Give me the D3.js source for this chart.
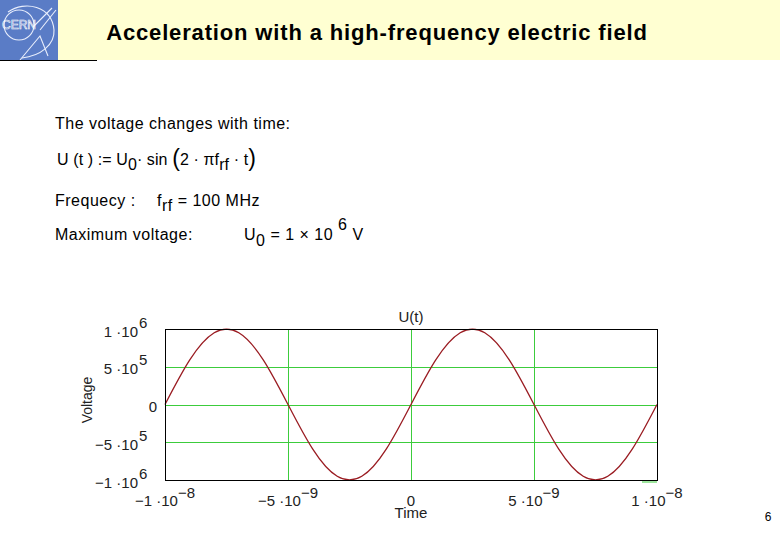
<!DOCTYPE html>
<html>
<head>
<meta charset="utf-8">
<script src="https://cdn.jsdelivr.net/npm/d3@7"></script>
<style>
  html, body { margin: 0; padding: 0; background: #fff; }
  svg { display: block; font-family: "Liberation Sans", Arial, sans-serif; }
  text { white-space: pre; }
</style>
</head>
<body>
<svg id="chart" width="780" height="540"></svg>
<script>
// ---------------- data ----------------
const pageTitle = "Acceleration with a high-frequency electric field";
const chartTitle = "U(t)";
const xAxisLabel = "Time";
const yAxisLabel = "Voltage";
const pageNumber = "6";

// time samples (ns) and voltage (V)
const timeNs = [-10, -9, -8, -7, -6, -5, -4, -3, -2, -1, 0, 1, 2, 3, 4, 5, 6, 7, 8, 9, 10];
const voltage = [0, 5.88e5, 9.51e5, 9.51e5, 5.88e5, 0, -5.88e5, -9.51e5, -9.51e5, -5.88e5,
                 0, 5.88e5, 9.51e5, 9.51e5, 5.88e5, 0, -5.88e5, -9.51e5, -9.51e5, -5.88e5, 0];

const xTicks = [-1e-8, -5e-9, 0, 5e-9, 1e-8];
const yTicks = [-1e6, -5e5, 0, 5e5, 1e6];
const xGrid = [-5e-9, 0, 5e-9];
const yGrid = [-5e5, 0, 5e5];

// ---------------- drawing ----------------
const svg = d3.select("#chart");

// header band
svg.append("rect").attr("x", 58).attr("y", 0).attr("width", 722).attr("height", 60).attr("fill", "#ffffd2");
// logo
const logo = svg.append("g");
logo.append("rect").attr("x", 0).attr("y", 0).attr("width", 58).attr("height", 60).attr("fill", "#5a7cc6");
logo.append("circle").attr("cx", 19).attr("cy", 25).attr("r", 15).attr("fill", "none").attr("stroke", "#e8eefc").attr("stroke-width", 1.1);
logo.append("path").attr("d", "M8,12 C25,0 52,6 54,30 C55,45 40,56 22,58").attr("fill", "none").attr("stroke", "#e8eefc").attr("stroke-width", 1.1);
logo.append("path").attr("d", "M34,26 L52,8 M40,30 L56,10 M20,60 L40,36 L48,56").attr("fill", "none").attr("stroke", "#e8eefc").attr("stroke-width", 1.1);
logo.append("text").attr("x", 19).attr("y", 29).attr("text-anchor", "middle")
  .attr("font-size", 12).attr("fill", "none").attr("stroke", "#ffffff").attr("stroke-width", 0.6).text("CERN");
svg.append("line").attr("x1", 0).attr("x2", 97).attr("y1", 60.5).attr("y2", 60.5).attr("stroke", "#000").attr("stroke-width", 1);

svg.append("text").attr("x", 377).attr("y", 40).attr("text-anchor", "middle")
  .attr("font-size", 22).attr("font-weight", "bold").attr("letter-spacing", 0.85).attr("fill", "#000").text(pageTitle);

// formula block
const fs = 16;
const ls = 0.5;
svg.append("text").attr("x", 55).attr("y", 129).attr("font-size", fs).attr("letter-spacing", ls)
  .text("The voltage changes with time:");

const l2 = svg.append("text").attr("x", 57).attr("y", 165).attr("font-size", fs).attr("letter-spacing", 0.1);
l2.append("tspan").text("U (t ) := U");
l2.append("tspan").attr("dy", 5).text("0");
l2.append("tspan").attr("dy", -5).text("· sin ");
l2.append("tspan").attr("font-size", 23).attr("dy", 1).text("(");
l2.append("tspan").attr("dy", -1).text("2 · πf");
l2.append("tspan").attr("dy", 5).text("rf");
l2.append("tspan").attr("dy", -5).text(" · t");
l2.append("tspan").attr("font-size", 23).attr("dy", 1).text(")");

svg.append("text").attr("x", 55).attr("y", 206).attr("font-size", fs).attr("letter-spacing", ls).text("Frequecy :");
const l3 = svg.append("text").attr("x", 157).attr("y", 206).attr("font-size", fs).attr("letter-spacing", ls);
l3.append("tspan").text("f");
l3.append("tspan").attr("dy", 5).text("rf");
l3.append("tspan").attr("dy", -5).text(" = 100 MHz");

svg.append("text").attr("x", 55).attr("y", 240).attr("font-size", fs).attr("letter-spacing", ls).text("Maximum voltage:");
const l4 = svg.append("text").attr("x", 244).attr("y", 240).attr("font-size", fs).attr("letter-spacing", ls);
l4.append("tspan").text("U");
l4.append("tspan").attr("dy", 6).text("0");
l4.append("tspan").attr("dy", -6).text(" = 1 × 10 ");
l4.append("tspan").attr("dy", -10).text("6");
l4.append("tspan").attr("dy", 10).text(" V");

// chart
const x = d3.scaleLinear().domain([-1e-8, 1e-8]).range([165, 657]);
const y = d3.scaleLinear().domain([-1e6, 1e6]).range([480, 329]);
const data = timeNs.map((t, i) => ({ t: t * 1e-9, v: voltage[i] }));

const grid = svg.append("g").attr("stroke", "#3ccc3c").attr("stroke-width", 1);
grid.selectAll("line.vx").data(xGrid).join("line")
  .attr("x1", d => Math.round(x(d)) + 0.5).attr("x2", d => Math.round(x(d)) + 0.5)
  .attr("y1", y(1e6)).attr("y2", y(-1e6));
grid.selectAll("line.hy").data(yGrid).join("line")
  .attr("x1", x(-1e-8)).attr("x2", x(1e-8))
  .attr("y1", d => Math.round(y(d)) + 0.5).attr("y2", d => Math.round(y(d)) + 0.5);
// small green stub below the frame at lower right (as in the original rendering)
grid.append("line").attr("x1", x(1e-8) - 15).attr("x2", x(1e-8)).attr("y1", y(-1e6) + 2).attr("y2", y(-1e6) + 2);

const line = d3.line().x(d => x(d.t)).y(d => y(d.v)).curve(d3.curveNatural);
svg.append("path").datum(data).attr("d", line)
  .attr("fill", "none").attr("stroke", "#9a1c22").attr("stroke-width", 1.3);

svg.append("rect").attr("x", x(-1e-8) + 0.5).attr("y", y(1e6) + 0.5)
  .attr("width", x(1e-8) - x(-1e-8)).attr("height", y(-1e6) - y(1e6))
  .attr("fill", "none").attr("stroke", "#000").attr("stroke-width", 1);

function parts(v) {
  if (v === 0) return { main: "0", sup: "" };
  const e = Math.floor(Math.log10(Math.abs(v)) + 1e-9);
  const m = Math.round(v / Math.pow(10, e));
  const minus = "\u2212";
  return { main: (m < 0 ? minus : "") + Math.abs(m) + " ·10", sup: (e < 0 ? minus : "") + Math.abs(e) };
}

const lfs = 15;
const lblColor = "#222";
// y tick labels
yTicks.forEach(v => {
  const p = parts(v);
  const yy = y(v);
  if (p.sup === "") {
    svg.append("text").attr("x", 157).attr("y", yy + 7.5).attr("text-anchor", "end")
      .attr("font-size", lfs).attr("fill", lblColor).text(p.main);
  } else {
    svg.append("text").attr("x", 138).attr("y", yy + 7.5).attr("text-anchor", "end")
      .attr("font-size", lfs).attr("fill", lblColor).text(p.main);
    svg.append("text").attr("x", 139).attr("y", yy - 1.5).attr("text-anchor", "start")
      .attr("font-size", lfs).attr("fill", lblColor).text(p.sup);
  }
});

// x tick labels
xTicks.forEach(v => {
  const p = parts(v);
  const t = svg.append("text").attr("x", x(v)).attr("y", 506).attr("text-anchor", "middle")
    .attr("font-size", lfs).attr("fill", lblColor);
  t.append("tspan").text(p.main);
  if (p.sup !== "") t.append("tspan").attr("dy", -8).text(p.sup);
});

svg.append("text").attr("x", x(0)).attr("y", 518).attr("text-anchor", "middle")
  .attr("font-size", lfs).attr("fill", lblColor).text(xAxisLabel);
svg.append("text").attr("transform", "translate(92,400) rotate(-90)").attr("text-anchor", "middle")
  .attr("font-size", 14).attr("fill", lblColor).text(yAxisLabel);
svg.append("text").attr("x", x(0)).attr("y", 322).attr("text-anchor", "middle")
  .attr("font-size", lfs).attr("fill", lblColor).text(chartTitle);

svg.append("text").attr("x", 768).attr("y", 521).attr("text-anchor", "middle")
  .attr("font-size", 12).attr("fill", "#000").text(pageNumber);
</script>
</body>
</html>
